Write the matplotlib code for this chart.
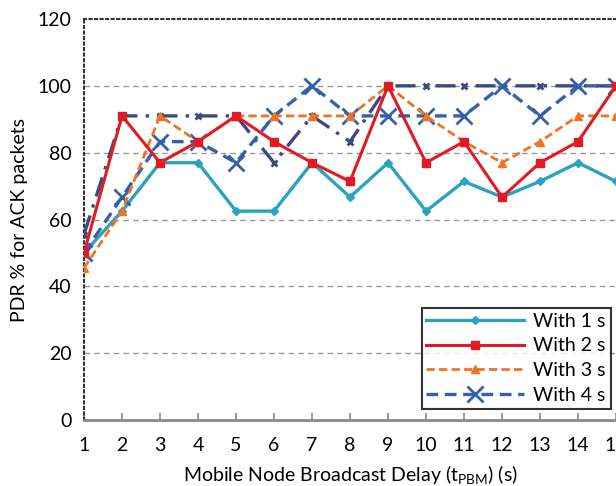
import numpy as np
import matplotlib
matplotlib.use('Agg')
import matplotlib.pyplot as plt

plt.rcParams['font.family'] = ['Lato', 'DejaVu Sans']

delay = np.arange(1, 16)
with_1s = [50, 62.5, 77, 77, 62.5, 62.5, 77, 66.7, 77, 62.5, 71.4, 66.7, 71.4, 77, 71.4]
with_2s = [50, 91, 77, 83.3, 91, 83.3, 77, 71.4, 100, 77, 83.3, 66.7, 77, 83.3, 100]
with_3s = [45.5, 62.5, 91, 83.3, 91, 91, 91, 91, 100, 91, 83.3, 77, 83.3, 91, 91]
with_4s = [50, 66.7, 83.3, 83.3, 77, 91, 100, 91, 91, 91, 91, 100, 91, 100, 100]
with_5s = [55.5, 91, 91, 91, 91, 77, 91, 83.3, 100, 100, 100, 100, 100, 100, 100]

fs = 14

fig = plt.figure(figsize=(6.16, 4.86), dpi=100)
ax = fig.add_axes([84/616, 1 - 420/486, 1 - 84/616, 401/486])

ax.plot(delay, with_5s, color='#3d4a80', lw=2.4, ls=(0, (6, 2.5, 1, 2.5)),
        marker='x', ms=4, mew=2, zorder=3)
ax.plot(delay, with_1s, color='#2aa3c0', lw=2.4, marker='D', ms=4,
        label='With 1 s', zorder=4)
ax.plot(delay, with_2s, color='#e01b24', lw=2.2, marker='s', ms=6,
        label='With 2 s', zorder=6)
ax.plot(delay, with_3s, color='#f07426', lw=2.0, ls=(0, (3, 1.5)),
        marker='^', ms=6, label='With 3 s', zorder=5)
ax.plot(delay, with_4s, color='#3561a8', lw=2.4, ls=(0, (3.5, 2)),
        marker='x', ms=11, mew=2, label='With 4 s', zorder=4)

ax.set_xlim(1, 15)
ax.set_ylim(0, 120)
ax.set_xticks(delay)
ax.set_yticks(np.arange(0, 121, 20))
ax.tick_params(axis='x', direction='in', length=5, width=1.2, color='#888888',
               labelsize=fs, pad=12)
ax.tick_params(axis='y', length=0, labelsize=fs, pad=9)

for y in range(20, 101, 20):
    ax.axhline(y, color='#999999', lw=1, ls=(0, (4, 3)), zorder=1)

ax.spines['left'].set_linestyle(':')
ax.spines['left'].set_linewidth(1.5)
ax.spines['left'].set_color('#333333')
ax.spines['top'].set_linestyle(':')
ax.spines['top'].set_linewidth(1.5)
ax.spines['top'].set_color('#333333')
ax.spines['bottom'].set_color('#888888')
ax.spines['bottom'].set_linewidth(2)
ax.spines['right'].set_visible(False)

ax.set_ylabel('PDR % for ACK packets', fontsize=fs, labelpad=7)
ax.set_xlabel('Mobile Node Broadcast Delay (t$_{\\mathregular{PBM}}$) (s)',
              fontsize=fs, labelpad=7)

leg = ax.legend(loc='lower right', bbox_to_anchor=(0.99, 0.028), fontsize=fs,
                frameon=True, fancybox=False, edgecolor='black',
                handlelength=5.0, borderpad=0.25, labelspacing=0.4,
                handletextpad=0.5, borderaxespad=0.0)
leg.get_frame().set_linewidth(1.5)

fig.savefig('out.png', dpi=100)
